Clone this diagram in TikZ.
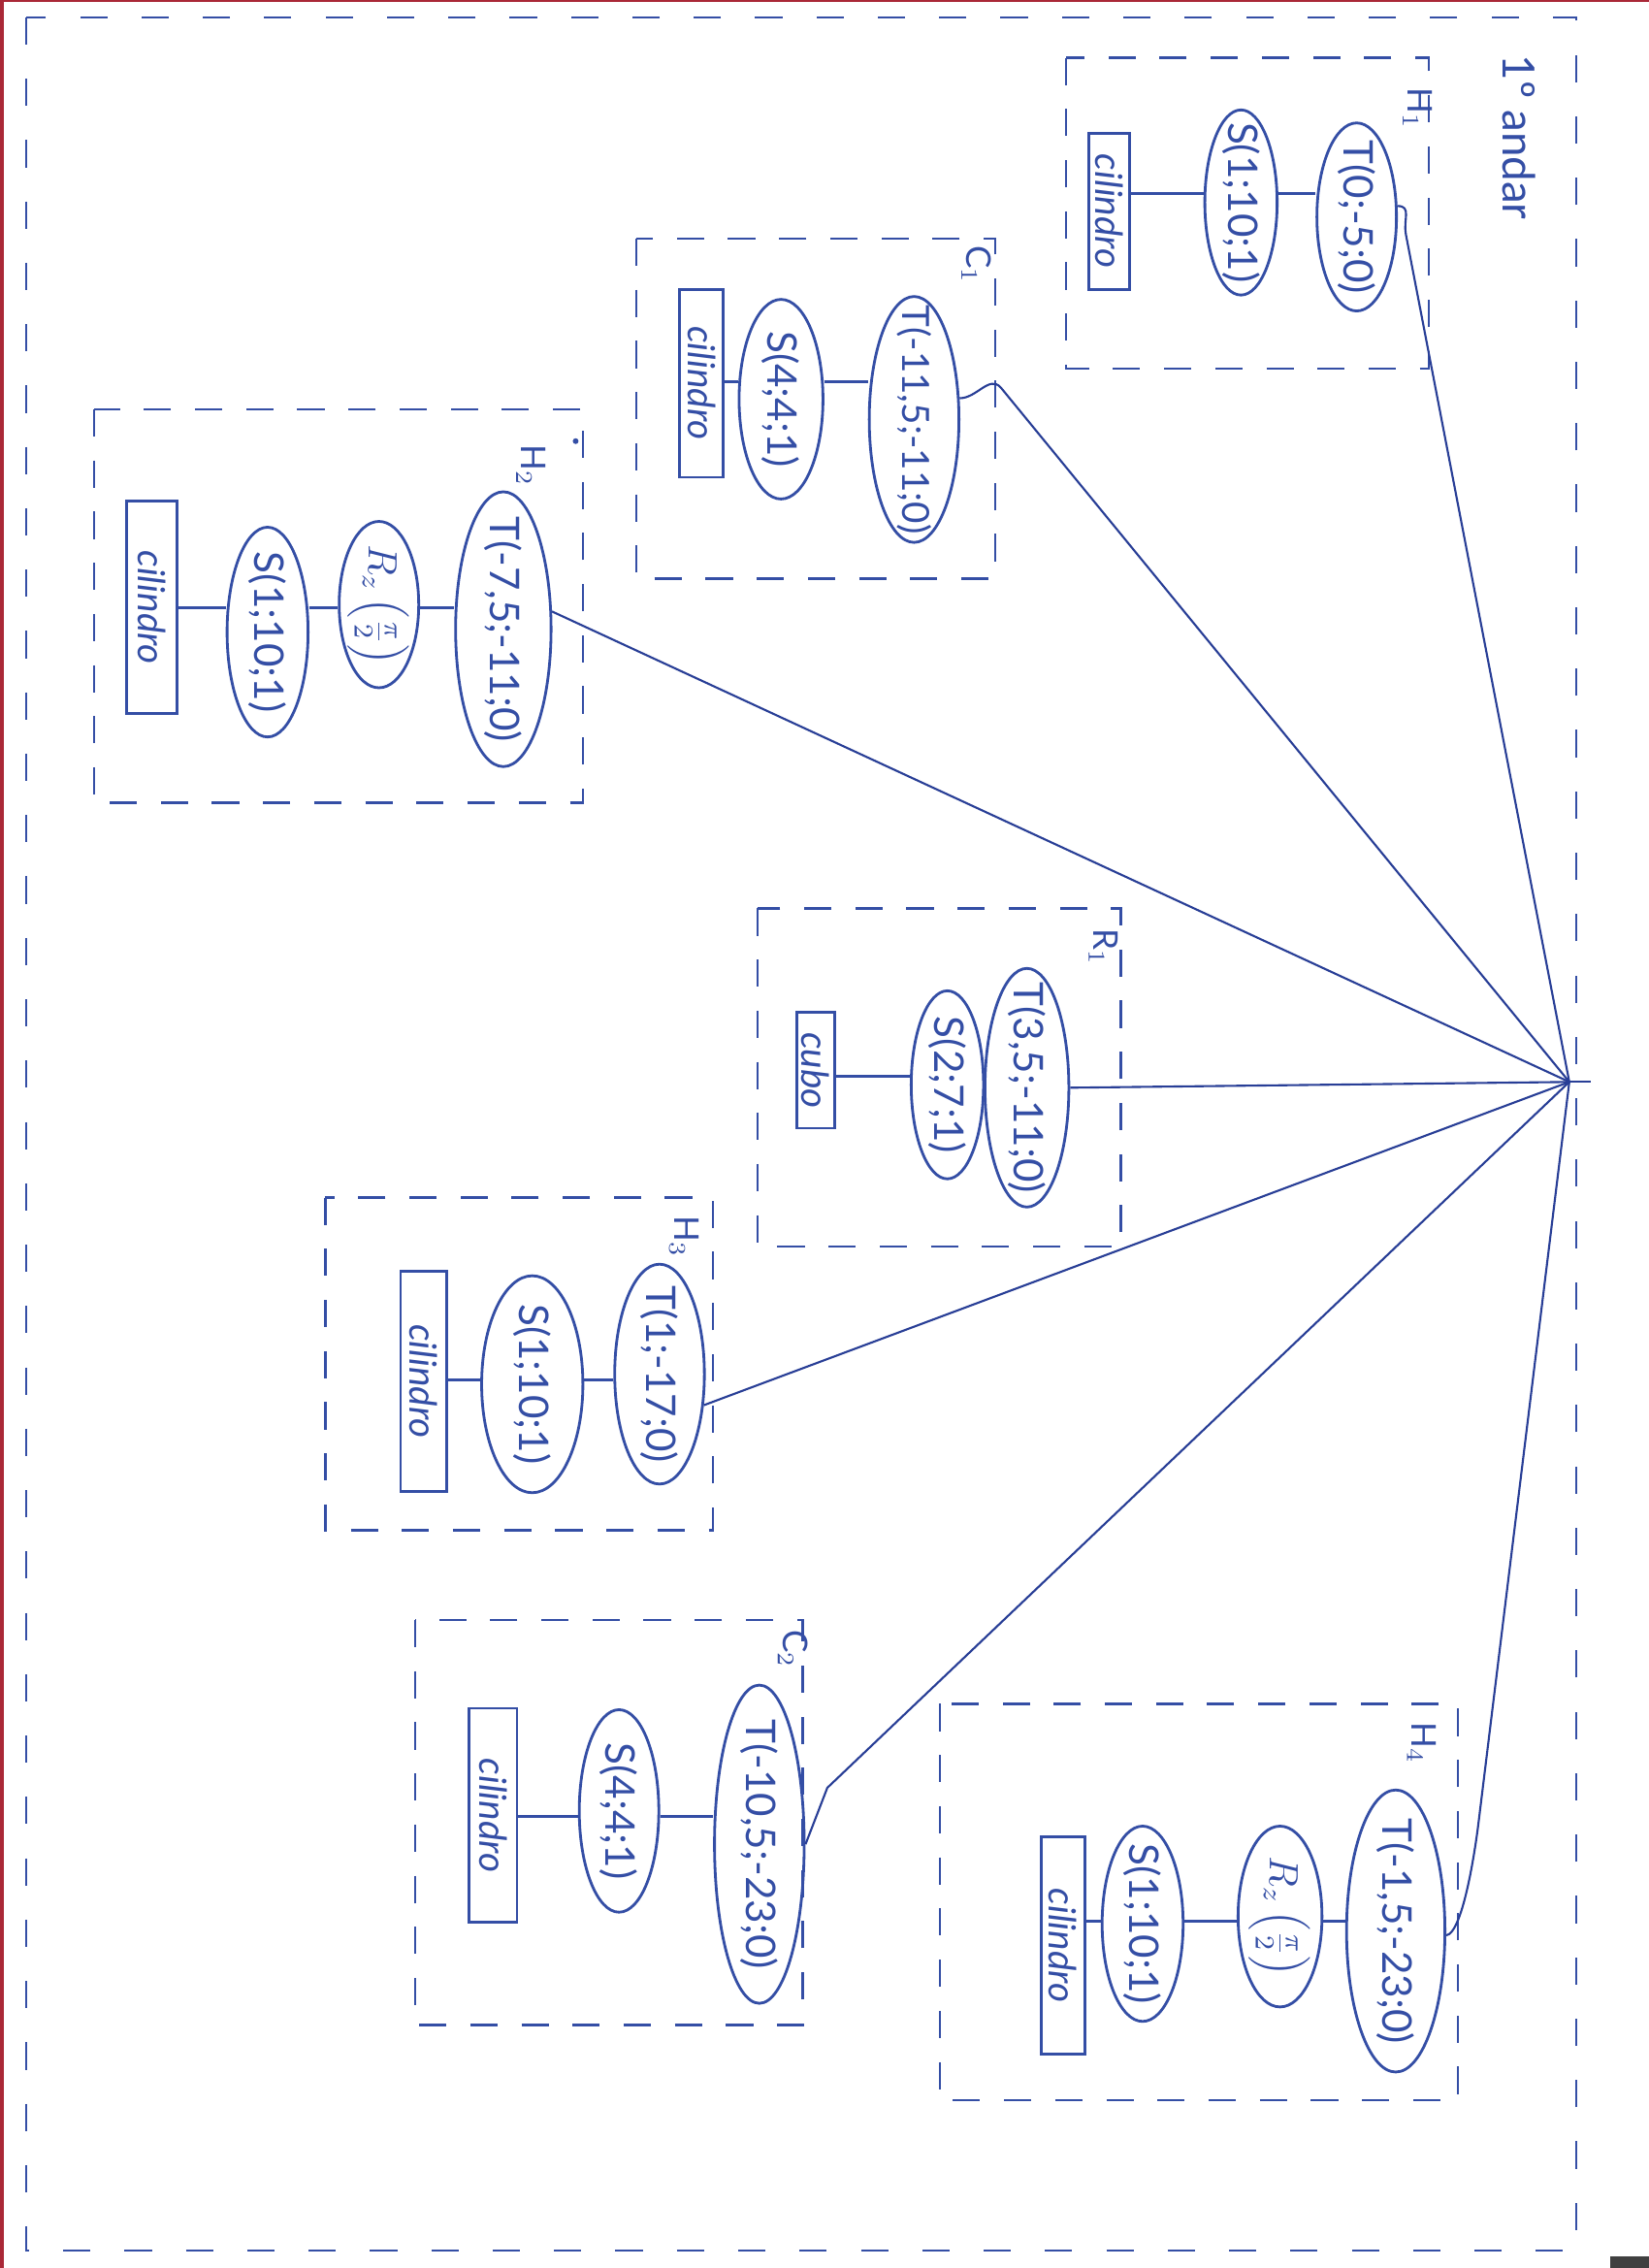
\documentclass[tikz,border=0pt]{standalone}
\usepackage{fontspec}
\setmainfont{Lato}
\usetikzlibrary{shapes.geometric}
\definecolor{penblue}{RGB}{52,78,165}
\definecolor{linkblue}{RGB}{40,62,150}
\definecolor{scanred}{RGB}{170,40,55}
\newlength\pxu
\setlength\pxu{0.14912mm}
\tikzset{
  sz/.style 2 args={minimum width=#1\pxu, minimum height=#2\pxu},
  pen/.style={draw=penblue, line width=0.8pt},
  tnode/.style={pen, ellipse, inner sep=0pt},
  rnode/.style={pen, rectangle, inner sep=0pt},
  ttext/.style={text=penblue, inner sep=0pt, font=\fontsize{12}{14}\selectfont},
  rtext/.style={text=penblue, inner sep=0pt, font=\fontsize{11}{13}\selectfont\itshape},
  grp/.style={draw=penblue, line width=0.65pt, dash pattern=on 8pt off 7pt},
  outer/.style={draw=penblue, line width=0.65pt, dash pattern=on 8pt off 10pt},
  lbl/.style={text=penblue, inner sep=0pt, font=\fontsize{10}{12}\selectfont},
  link/.style={draw=linkblue, line width=0.6pt},
  inlink/.style={draw=penblue, line width=0.8pt},
}
\begin{document}
\begin{tikzpicture}[x=0.14912mm, y=-0.14912mm]
\useasboundingbox (0,0) rectangle (1140,1568);
\fill[white] (0,0) rectangle (1140,1568);
% scanner edges
\fill[scanred] (0,0) rectangle (2.5,1568);
\fill[scanred] (0,0) rectangle (1140,1.5);
\fill[black!75] (1113,1560) rectangle (1140,1568);

% outer frame
\draw[outer] (18,12) rectangle (1090,1556);
\node[lbl, font=\fontsize{13}{15}\selectfont] (andar) at (1050,95) {\rotatebox{-90}{1º andar}};

% root
\coordinate (root) at (1085,748);
\coordinate (stub) at (1100,748);
\draw[link] (root) -- (stub);

% ---------- H1 ----------
\draw[grp] (737,40) rectangle (988,255);
\node[lbl] (H1l) at (980,75) {\rotatebox{-90}{H$_1$}};
\node[tnode, sz={55}{130}] (H1T) at (938,150) {};
\node[ttext] (H1Tt) at (H1T) {\rotatebox{-90}{T(0;-5;0)}};
\node[tnode, sz={50}{128}] (H1S) at (858,140) {};
\node[ttext] (H1St) at (H1S) {\rotatebox{-90}{S(1;10;1)}};
\node[rnode, sz={28}{108}] (H1R) at (767,146) {};
\node[rtext] (H1Rt) at (H1R) {\rotatebox{-90}{cilindro}};
\coordinate (H1y) at (0,134);
\draw[inlink] (H1R.east |- H1y) -- (H1S.west |- H1y);
\draw[inlink] (H1S.east |- H1y) -- (H1T.west |- H1y);
\draw[link] (H1T.15) .. controls +(10,0) and +(-2,-10) .. (972,162) -- (root);

% ---------- C1 ----------
\draw[grp] (440,165) rectangle (688,400);
\node[lbl] (C1l) at (675,183) {\rotatebox{-90}{C$_1$}};
\node[tnode, sz={62}{170}] (C1T) at (632,290) {};
\node[ttext, font=\fontsize{11}{13}\selectfont] (C1Tt) at (C1T) {\rotatebox{-90}{T(-11,5;-11;0)}};
\node[tnode, sz={58}{138}] (C1S) at (540,276) {};
\node[ttext] (C1St) at (C1S) {\rotatebox{-90}{S(4;4;1)}};
\node[rnode, sz={30}{130}] (C1R) at (485,265) {};
\node[rtext] (C1Rt) at (C1R) {\rotatebox{-90}{cilindro}};
\coordinate (C1y) at (0,264);
\draw[inlink] (C1R.east |- C1y) -- (C1S.west |- C1y);
\draw[inlink] (C1S.east |- C1y) -- (C1T.west |- C1y);
\draw[link] (C1T.25) .. controls +(12,0) and +(-8,-9) .. (692,268) -- (root);

% ---------- H2 ----------
\draw[grp] (65,283) rectangle (403,555);
\node[lbl] (H2l) at (367,322) {\rotatebox{-90}{H$_2$}};
\fill[penblue] (398,305) circle (2);
\node[tnode, sz={66}{190}] (H2T) at (348,435) {};
\node[ttext] (H2Tt) at (H2T) {\rotatebox{-90}{T(-7,5;-11;0)}};
\node[tnode, sz={55}{115}] (H2Z) at (262,418) {};
\node[ttext] (H2Zt) at (H2Z) {\rotatebox{-90}{$R_z\left(\frac{\pi}{2}\right)$}};
\node[tnode, sz={56}{145}] (H2S) at (185,437) {};
\node[ttext] (H2St) at (H2S) {\rotatebox{-90}{S(1;10;1)}};
\node[rnode, sz={35}{147}] (H2R) at (105,420) {};
\node[rtext] (H2Rt) at (H2R) {\rotatebox{-90}{cilindro}};
\coordinate (H2y) at (0,420);
\draw[inlink] (H2R.east |- H2y) -- (H2S.west |- H2y);
\draw[inlink] (H2S.east |- H2y) -- (H2Z.west |- H2y);
\draw[inlink] (H2Z.east |- H2y) -- (H2T.west |- H2y);
\draw[link] (H2T.20) -- (root);

% ---------- R1 ----------
\draw[grp] (524,628) rectangle (775,862);
\node[lbl] (R1l) at (763,655) {\rotatebox{-90}{R$_1$}};
\node[tnode, sz={58}{165}] (R1T) at (710,752) {};
\node[ttext] (R1Tt) at (R1T) {\rotatebox{-90}{T(3,5;-11;0)}};
\node[tnode, sz={50}{130}] (R1S) at (655,750) {};
\node[ttext] (R1St) at (R1S) {\rotatebox{-90}{S(2;7;1)}};
\node[rnode, sz={26}{80}] (R1R) at (564,740) {};
\node[rtext] (R1Rt) at (R1R) {\rotatebox{-90}{cubo}};
\coordinate (R1y) at (0,744);
\draw[inlink] (R1R.east |- R1y) -- (R1S.west |- R1y);
\draw[inlink] (R1S.east |- R1y) -- (R1T.west |- R1y);
\draw[link] (R1T.east) -- (root);

% ---------- H3 ----------
\draw[grp] (225,828) rectangle (493,1058);
\node[lbl] (H3l) at (473,855) {\rotatebox{-90}{H$_3$}};
\node[tnode, sz={62}{152}] (H3T) at (456,950) {};
\node[ttext] (H3Tt) at (H3T) {\rotatebox{-90}{T(1;-17;0)}};
\node[tnode, sz={70}{150}] (H3S) at (368,957) {};
\node[ttext] (H3St) at (H3S) {\rotatebox{-90}{S(1;10;1)}};
\node[rnode, sz={32}{152}] (H3R) at (293,955) {};
\node[rtext] (H3Rt) at (H3R) {\rotatebox{-90}{cilindro}};
\coordinate (H3y) at (0,954);
\draw[inlink] (H3R.east |- H3y) -- (H3S.west |- H3y);
\draw[inlink] (H3S.east |- H3y) -- (H3T.west |- H3y);
\draw[link] (H3T.-35) -- (root);

% ---------- C2 ----------
\draw[grp] (287,1120) rectangle (555,1400);
\node[lbl] (C2l) at (548,1140) {\rotatebox{-90}{C$_2$}};
\node[tnode, sz={62}{220}] (C2T) at (525,1275) {};
\node[ttext] (C2Tt) at (C2T) {\rotatebox{-90}{T(-10,5;-23;0)}};
\node[tnode, sz={55}{140}] (C2S) at (428,1252) {};
\node[ttext] (C2St) at (C2S) {\rotatebox{-90}{S(4;4;1)}};
\node[rnode, sz={33}{148}] (C2R) at (341,1255) {};
\node[rtext] (C2Rt) at (C2R) {\rotatebox{-90}{cilindro}};
\coordinate (C2y) at (0,1256);
\draw[inlink] (C2R.east |- C2y) -- (C2S.west |- C2y);
\draw[inlink] (C2S.east |- C2y) -- (C2T.west |- C2y);
\draw[link] (C2T.east) -- (572,1236) -- (root);

% ---------- H4 ----------
\draw[grp] (650,1178) rectangle (1008,1452);
\node[lbl] (H4l) at (983,1205) {\rotatebox{-90}{H$_4$}};
\node[tnode, sz={68}{195}] (H4T) at (965,1335) {};
\node[ttext] (H4Tt) at (H4T) {\rotatebox{-90}{T(-1,5;-23;0)}};
\node[tnode, sz={58}{125}] (H4Z) at (885,1325) {};
\node[ttext] (H4Zt) at (H4Z) {\rotatebox{-90}{$R_z\left(\frac{\pi}{2}\right)$}};
\node[tnode, sz={56}{135}] (H4S) at (790,1330) {};
\node[ttext] (H4St) at (H4S) {\rotatebox{-90}{S(1;10;1)}};
\node[rnode, sz={30}{150}] (H4R) at (735,1345) {};
\node[rtext] (H4Rt) at (H4R) {\rotatebox{-90}{cilindro}};
\coordinate (H4y) at (0,1328);
\draw[inlink] (H4R.east |- H4y) -- (H4S.west |- H4y);
\draw[inlink] (H4S.east |- H4y) -- (H4Z.west |- H4y);
\draw[inlink] (H4Z.east |- H4y) -- (H4T.west |- H4y);
\draw[link] (H4T.-5) .. controls +(12,-2) and +(-1.5,12) .. (1022,1262) -- (root);
\end{tikzpicture}
\end{document}
